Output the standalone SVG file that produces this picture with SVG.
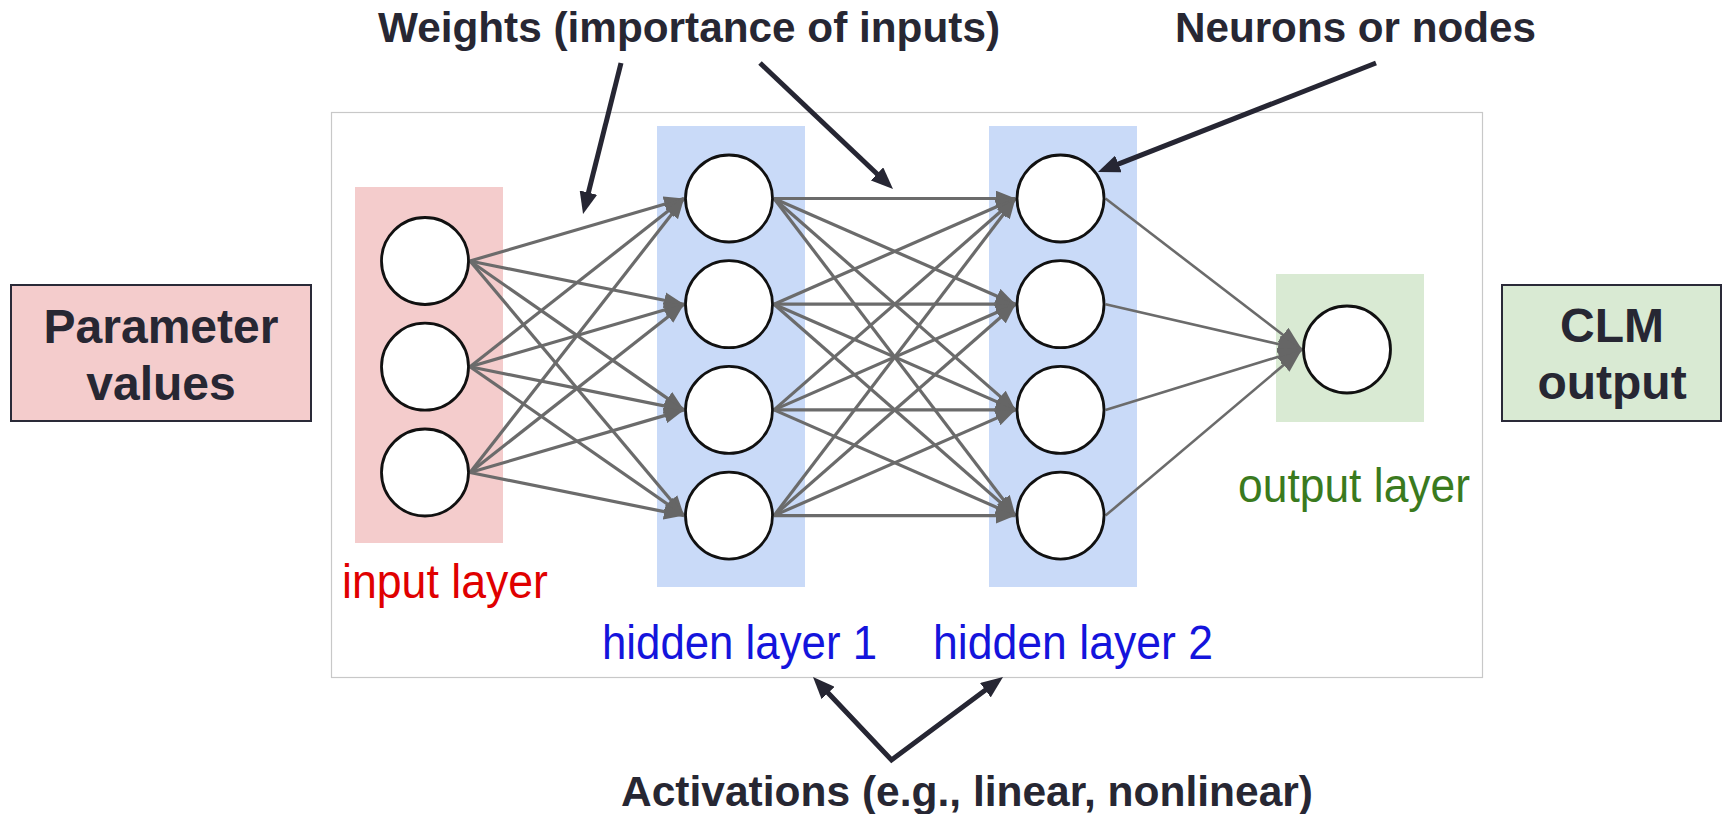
<svg xmlns="http://www.w3.org/2000/svg" width="1723" height="814" viewBox="0 0 1723 814">
<style>
.title{font-family:"Liberation Sans",Arial,sans-serif;font-weight:bold;fill:#272733}
.box{font-family:"Liberation Sans",Arial,sans-serif;font-weight:bold;fill:#272733;font-size:48px}
.lbl{font-family:"Liberation Sans",Arial,sans-serif;font-size:48px}
.neuron{fill:#ffffff;stroke:#111111;stroke-width:2.8}
.e{stroke:#6b6b6b;stroke-width:3.2;marker-end:url(#ga)}
.e2{stroke:#6b6b6b;stroke-width:2.6;marker-end:url(#gb)}
.pa{stroke:#262633;stroke-width:5;fill:none}
</style>
<defs>
<marker id="ga" viewBox="0 0 20 16" refX="20" refY="8" markerWidth="20" markerHeight="16" markerUnits="userSpaceOnUse" orient="auto"><path d="M0,0 L20,8 L0,16 z" fill="#666666"/></marker>
<marker id="gb" viewBox="0 0 24 18" refX="24" refY="9" markerWidth="24" markerHeight="18" markerUnits="userSpaceOnUse" orient="auto"><path d="M0,0 L24,9 L0,18 z" fill="#666666"/></marker>
<marker id="da" viewBox="0 0 22 18" refX="14" refY="9" markerWidth="22" markerHeight="18" markerUnits="userSpaceOnUse" orient="auto-start-reverse"><path d="M0,0 L22,9 L0,18 z" fill="#262633"/></marker>
</defs>
<rect width="1723" height="814" fill="#ffffff"/>

<g id="frame"><rect x="331.5" y="112.5" width="1151" height="565" fill="#ffffff" stroke="#c8c8c8" stroke-width="1.2"/></g>

<g id="layer-bands">
<rect x="355" y="187" width="148" height="356" fill="#f4cccc"/>
<rect x="657" y="126" width="148" height="461" fill="#c9daf8"/>
<rect x="989" y="126" width="148" height="461" fill="#c9daf8"/>
<rect x="1276" y="274" width="148" height="148" fill="#d9ead3"/>
</g>

<g id="connectors">
<line class="e" x1="470" y1="261" x2="684" y2="198.5"/>
<line class="e" x1="470" y1="261" x2="684" y2="304.2"/>
<line class="e" x1="470" y1="261" x2="684" y2="409.9"/>
<line class="e" x1="470" y1="261" x2="684" y2="515.6"/>
<line class="e" x1="470" y1="366.7" x2="684" y2="198.5"/>
<line class="e" x1="470" y1="366.7" x2="684" y2="304.2"/>
<line class="e" x1="470" y1="366.7" x2="684" y2="409.9"/>
<line class="e" x1="470" y1="366.7" x2="684" y2="515.6"/>
<line class="e" x1="470" y1="472.5" x2="684" y2="198.5"/>
<line class="e" x1="470" y1="472.5" x2="684" y2="304.2"/>
<line class="e" x1="470" y1="472.5" x2="684" y2="409.9"/>
<line class="e" x1="470" y1="472.5" x2="684" y2="515.6"/>

<line class="e" x1="774" y1="198.5" x2="1015.5" y2="198.5"/>
<line class="e" x1="774" y1="198.5" x2="1015.5" y2="304.2"/>
<line class="e" x1="774" y1="198.5" x2="1015.5" y2="409.9"/>
<line class="e" x1="774" y1="198.5" x2="1015.5" y2="515.6"/>
<line class="e" x1="774" y1="304.2" x2="1015.5" y2="198.5"/>
<line class="e" x1="774" y1="304.2" x2="1015.5" y2="304.2"/>
<line class="e" x1="774" y1="304.2" x2="1015.5" y2="409.9"/>
<line class="e" x1="774" y1="304.2" x2="1015.5" y2="515.6"/>
<line class="e" x1="774" y1="409.9" x2="1015.5" y2="198.5"/>
<line class="e" x1="774" y1="409.9" x2="1015.5" y2="304.2"/>
<line class="e" x1="774" y1="409.9" x2="1015.5" y2="409.9"/>
<line class="e" x1="774" y1="409.9" x2="1015.5" y2="515.6"/>
<line class="e" x1="774" y1="515.6" x2="1015.5" y2="198.5"/>
<line class="e" x1="774" y1="515.6" x2="1015.5" y2="304.2"/>
<line class="e" x1="774" y1="515.6" x2="1015.5" y2="409.9"/>
<line class="e" x1="774" y1="515.6" x2="1015.5" y2="515.6"/>

<line class="e2" x1="1105.5" y1="198.5" x2="1302" y2="349.5"/>
<line class="e2" x1="1105.5" y1="304.2" x2="1302" y2="349.5"/>
<line class="e2" x1="1105.5" y1="409.9" x2="1302" y2="349.5"/>
<line class="e2" x1="1105.5" y1="515.6" x2="1302" y2="349.5"/>
</g>

<g id="input-layer">
<circle class="neuron" cx="425" cy="261" r="43.5"/>
<circle class="neuron" cx="425" cy="366.7" r="43.5"/>
<circle class="neuron" cx="425" cy="472.5" r="43.5"/>
<text class="lbl" x="342" y="598" fill="#e00000" textLength="206" lengthAdjust="spacingAndGlyphs">input layer</text>
</g>

<g id="hidden-layer-1">
<circle class="neuron" cx="729" cy="198.5" r="43.5"/>
<circle class="neuron" cx="729" cy="304.2" r="43.5"/>
<circle class="neuron" cx="729" cy="409.9" r="43.5"/>
<circle class="neuron" cx="729" cy="515.6" r="43.5"/>
<text class="lbl" x="602" y="659" fill="#1414dc" textLength="275" lengthAdjust="spacingAndGlyphs">hidden layer 1</text>
</g>

<g id="hidden-layer-2">
<circle class="neuron" cx="1060.5" cy="198.5" r="43.5"/>
<circle class="neuron" cx="1060.5" cy="304.2" r="43.5"/>
<circle class="neuron" cx="1060.5" cy="409.9" r="43.5"/>
<circle class="neuron" cx="1060.5" cy="515.6" r="43.5"/>
<text class="lbl" x="933" y="659" fill="#1414dc" textLength="280" lengthAdjust="spacingAndGlyphs">hidden layer 2</text>
</g>

<g id="output-layer">
<circle class="neuron" cx="1347" cy="349.5" r="43.5"/>
<text class="lbl" x="1238" y="502" fill="#3a7a1e" textLength="232" lengthAdjust="spacingAndGlyphs">output layer</text>
</g>

<g id="parameter-values">
<rect x="11" y="285" width="300" height="136" fill="#f4cccc" stroke="#2a2a38" stroke-width="2"/>
<text class="box" x="161" y="343" text-anchor="middle">Parameter</text>
<text class="box" x="161" y="400" text-anchor="middle">values</text>
</g>

<g id="clm-output">
<rect x="1502" y="285" width="219" height="136" fill="#d9ead3" stroke="#2a2a38" stroke-width="2"/>
<text class="box" x="1612" y="342" text-anchor="middle">CLM</text>
<text class="box" x="1612" y="399" text-anchor="middle">output</text>
</g>

<g id="weights-label">
<text class="title" x="378" y="42" font-size="42" textLength="622" lengthAdjust="spacingAndGlyphs">Weights (importance of inputs)</text>
</g>
<g id="neurons-label">
<text class="title" x="1175" y="42" font-size="42" textLength="361" lengthAdjust="spacingAndGlyphs">Neurons or nodes</text>
</g>
<g id="activations-label">
<text class="title" x="621" y="806" font-size="42" textLength="692" lengthAdjust="spacingAndGlyphs">Activations (e.g., linear, nonlinear)</text>
</g>

<g id="pointer-arrows">
<line class="pa" x1="621" y1="63" x2="585" y2="206.2" marker-end="url(#da)"/>
<line class="pa" x1="760" y1="63" x2="887.2" y2="183.5" marker-end="url(#da)"/>
<line class="pa" x1="1376" y1="63" x2="1105.4" y2="169.1" marker-end="url(#da)"/>
<polyline class="pa" points="818.5,682.8 891.5,760 996.6,681.8" stroke-linejoin="miter" marker-start="url(#da)" marker-end="url(#da)"/>
</g>
</svg>
